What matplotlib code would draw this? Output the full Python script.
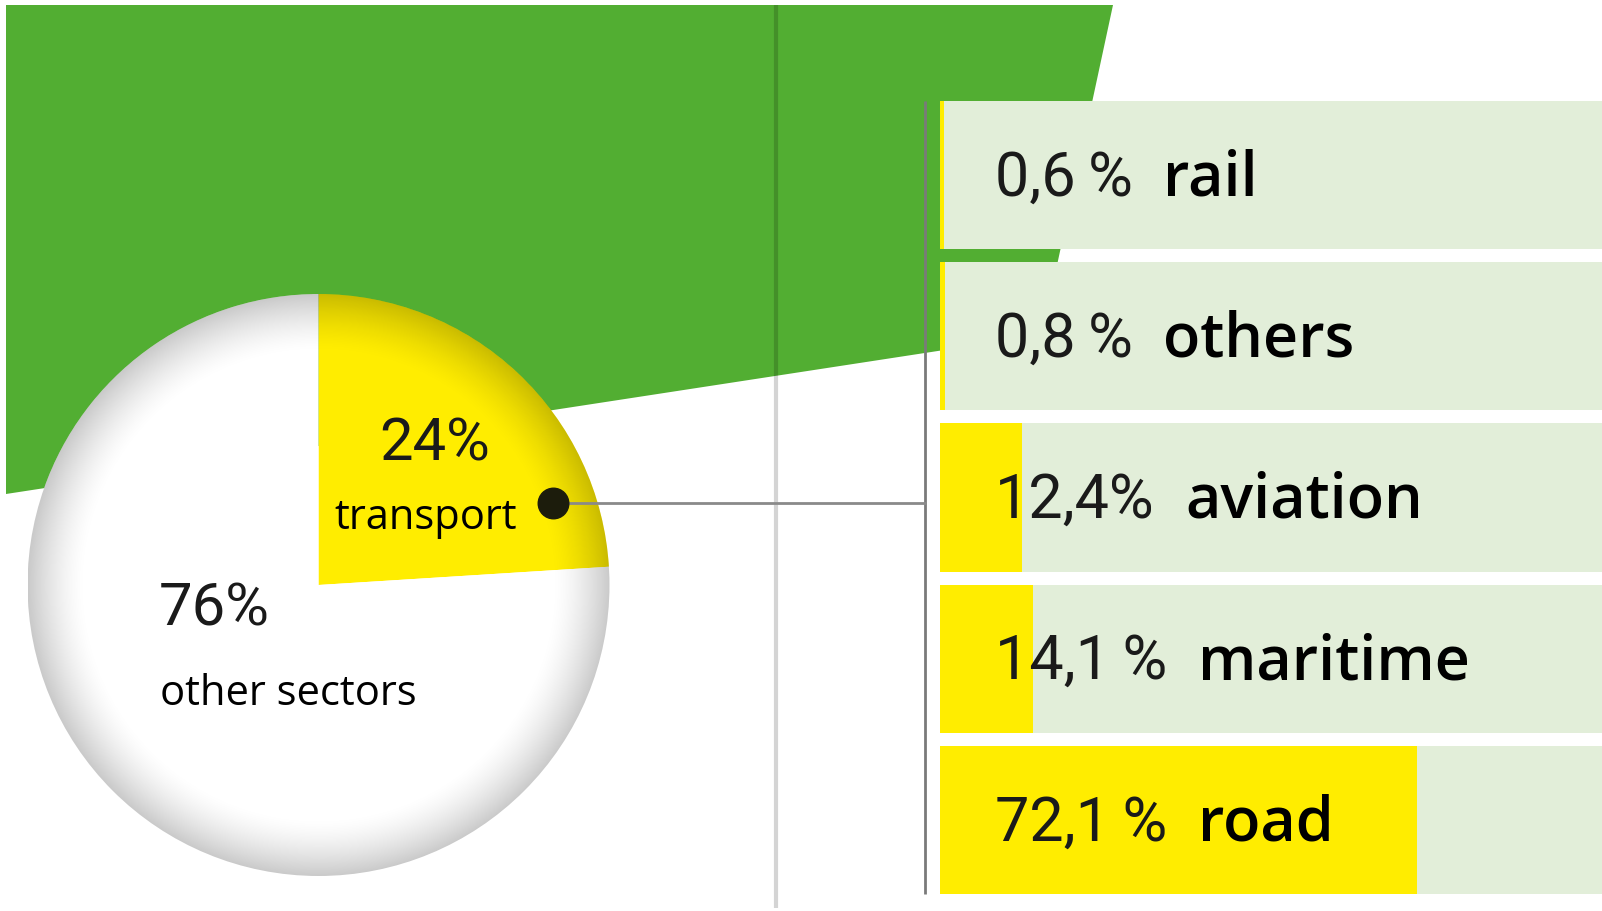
import numpy as np
import matplotlib
matplotlib.use("Agg")
import matplotlib.pyplot as plt
from matplotlib.patches import Polygon, Circle

# share of emissions: transport vs the rest
pie_labels = ["transport", "other sectors"]
pie_values = [24, 76]
pie_texts = ["24%", "76%"]

# split of transport by mode
modes = ["rail", "others", "aviation", "maritime", "road"]
mode_shares = [0.6, 0.8, 12.4, 14.1, 72.1]
mode_texts = ["0,6\u2009%", "0,8\u2009%", "12,4%", "14,1\u2009%", "72,1\u2009%"]

GREEN = "#52ae32"
PALE = "#e2eed9"
YELLOW = "#ffed00"
INK = "#1a1a1a"
NUM_FONT = ["Roboto", "DejaVu Sans"]
WORD_FONT = ["Open Sans", "DejaVu Sans"]

W, H = 1602, 912
fig = plt.figure(figsize=(W / 100, H / 100), dpi=100)


def px_axes(x0, y0, x1, y1):
    # axes placed by a pixel box, origin top-left
    ax = fig.add_axes([x0 / W, 1 - y1 / H, (x1 - x0) / W, (y1 - y0) / H])
    ax.axis("off")
    return ax


# ---- background: green band and guide lines ----
bg = px_axes(0, 0, W, H)
bg.set_xlim(0, W)
bg.set_ylim(H, 0)
bg.add_patch(Polygon([(6, 6), (1113, 6), (1042, 336), (6, 495)], closed=True,
                     facecolor=GREEN, lw=0))
bg.plot([776, 776], [6, 909], color="k", alpha=0.17, lw=3, solid_capstyle="butt")
bg.plot([925, 925], [102, 895], color="#7a7a7a", lw=2, solid_capstyle="butt")

# ---- pie ----
pa = px_axes(27.5, 295, 609.5, 877)
pa.pie(pie_values, colors=[YELLOW, "white"], startangle=90, counterclock=False,
       radius=1, wedgeprops=dict(lw=0))

# soft rim shading
yy, xx = np.mgrid[-1:1:500j, -1:1:500j]
rr = np.hypot(xx, yy)
shade = np.zeros((500, 500, 4))
shade[..., 3] = 0.21 * np.clip((rr - 0.8) / 0.2, 0, 1) ** 1.5
im = pa.imshow(shade, extent=(-1, 1, -1, 1), origin="lower", zorder=3)
im.set_clip_path(Circle((0, 0), 1, transform=pa.transData))
pa.set_xlim(-1, 1)
pa.set_ylim(-1, 1)

pa.text(0.40, 0.488, pie_texts[0], ha="center", va="center", fontsize=43,
        family=NUM_FONT, color=INK, zorder=5)
pa.text(0.37, 0.235, pie_labels[0], ha="center", va="center", fontsize=30,
        family=WORD_FONT, color="black", zorder=5)
pa.text(-0.55, -0.08, pie_texts[1], ha="left", va="center", fontsize=43,
        family=NUM_FONT, color=INK, zorder=5)
pa.text(-0.545, -0.372, pie_labels[1], ha="left", va="center", fontsize=30,
        family=WORD_FONT, color="black", zorder=5)

# ---- bars ----
bx = px_axes(940, 102, 1602, 895)
ypos = np.arange(len(modes))
bx.barh(ypos, [100] * len(modes), height=0.92, color=PALE, lw=0)
bx.barh(ypos, mode_shares, height=0.92, color=YELLOW, lw=0)
bx.set_xlim(0, 100)
bx.set_ylim(len(modes) - 1 + 0.46, -0.46)

for y, num, word in zip(ypos, mode_texts, modes):
    t = bx.text(8.3, y + 0.12, num, ha="left", va="baseline", fontsize=44,
                family=NUM_FONT, color=INK)
    bx.annotate(word, xy=(1, y + 0.12), xycoords=(t, "data"), xytext=(22, 0),
                textcoords="offset points", ha="left", va="baseline",
                fontsize=44, family=WORD_FONT, fontweight="semibold", color="black")

# ---- connector from the transport slice to the breakdown ----
top = px_axes(0, 0, W, H)
top.set_xlim(0, W)
top.set_ylim(H, 0)
top.plot([553, 925], [504, 504], color="#8a8a8a", lw=2)
top.plot([553], [504], "o", ms=22, color="#1c1c0c")

fig.savefig("out.png", dpi=100)
